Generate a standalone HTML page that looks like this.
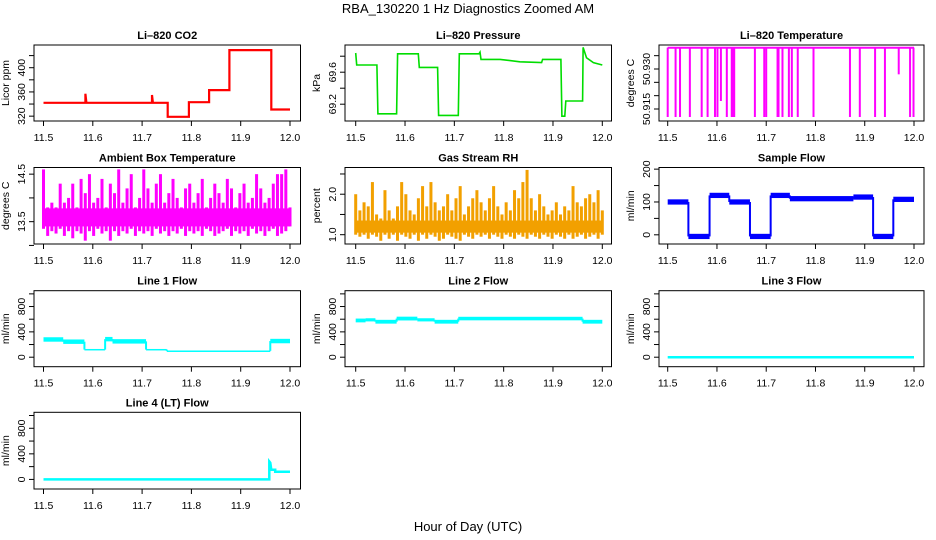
<!DOCTYPE html>
<html><head><meta charset="utf-8"><style>
html,body{margin:0;padding:0;background:#fff}
svg{display:block}
text{font-family:"Liberation Sans",sans-serif;fill:#000}
.t{font-size:11px;font-weight:bold}
.tk{font-size:10.5px}
</style></head><body>
<svg id="c" width="936" height="540" viewBox="0 0 936 540">
<text x="468" y="13" font-size="13" text-anchor="middle">RBA_130220  1 Hz Diagnostics Zoomed AM</text>
<text x="468" y="531" font-size="13" text-anchor="middle">Hour of Day (UTC)</text>
</svg>
<script>
const xTicks=[11.5,11.6,11.7,11.8,11.9,12.0];
const xTickLabels=["11.5","11.6","11.7","11.8","11.9","12.0"];
// CO2
const co2Hours=[11.5,11.585,11.585,11.587,11.72,11.72,11.722,11.752,11.752,11.795,11.795,11.836,11.836,11.877,11.877,11.96,11.962,11.962,12.0];
const co2Ppm=[342,342,357,342,342,355,342,342,319,319,343,343,363,363,429,429,429,331,331];
// Pressure
const presHours=[11.5,11.502,11.543,11.545,11.583,11.585,11.627,11.629,11.666,11.668,11.708,11.71,11.75,11.752,11.754,11.793,11.833,11.877,11.879,11.916,11.918,11.924,11.926,11.96,11.961,11.968,11.982,12.0];
const presKpa=[69.84,69.69,69.69,69.08,69.08,69.83,69.83,69.66,69.66,69.06,69.06,69.83,69.83,69.85,69.76,69.76,69.73,69.72,69.76,69.76,69.05,69.05,69.24,69.24,69.91,69.78,69.72,69.69];
// Li-820 temperature drops
const tempDropHours=[11.5,11.516,11.525,11.545,11.569,11.581,11.596,11.601,11.608,11.62,11.63,11.633,11.635,11.677,11.696,11.7,11.723,11.725,11.733,11.746,11.752,11.764,11.796,11.87,11.89,11.921,11.941,11.969,11.992,11.999];
const tempDropTo=[50.912,50.912,50.912,50.912,50.912,50.912,50.912,50.912,50.918,50.912,50.912,50.912,50.912,50.912,50.912,50.912,50.912,50.912,50.912,50.912,50.912,50.912,50.912,50.912,50.912,50.912,50.912,50.928,50.912,50.912];
const tempTop=50.938;
// Ambient box temperature
const ambHigh=[14.6,13.8,13.9,13.8,14.3,13.9,14.0,14.3,13.8,14.4,14.1,14.5,13.9,14.0,14.4,13.8,14.3,14.1,14.6,13.9,14.2,14.5,13.8,14.0,14.6,14.2,13.9,14.3,14.5,13.9,14.1,14.4,14.0,13.8,14.2,14.3,13.9,14.1,14.4,13.8,14.0,14.3,14.1,13.9,14.4,14.2,13.8,14.1,14.3,13.9,14.0,14.5,14.2,13.9,14.0,14.3,14.5,14.5,14.6,13.8];
const ambLow=[13.35,13.2,13.3,13.25,13.35,13.2,13.3,13.15,13.3,13.25,13.1,13.3,13.2,13.35,13.25,13.3,13.1,13.3,13.2,13.3,13.25,13.35,13.2,13.3,13.25,13.3,13.2,13.35,13.25,13.3,13.2,13.3,13.25,13.35,13.2,13.3,13.25,13.3,13.2,13.35,13.3,13.2,13.25,13.3,13.35,13.2,13.3,13.25,13.3,13.2,13.35,13.25,13.3,13.2,13.3,13.35,13.2,13.25,13.3,13.4];
const ambBand=[13.4,13.78];
// Gas stream RH
const rhHigh=[2.0,1.6,1.8,1.7,2.3,1.5,1.4,2.1,1.6,1.4,1.7,2.3,2.0,1.6,1.5,1.9,2.2,1.7,2.3,1.8,1.6,1.7,2.0,1.6,1.9,2.2,1.5,1.7,1.9,2.1,1.8,1.6,1.9,2.2,1.7,1.5,1.8,1.6,2.1,1.9,2.3,2.6,1.9,1.6,2.0,1.7,1.5,1.6,1.8,1.5,1.7,1.6,2.2,1.8,1.7,1.9,2.0,1.8,2.1,1.6];
const rhLow=[1.0,0.95,1.0,0.9,1.0,0.95,0.85,1.0,0.9,1.0,0.85,1.0,0.95,0.9,1.0,0.85,1.0,0.9,1.0,0.95,0.85,0.9,1.0,0.95,0.9,0.85,1.0,0.95,0.9,1.0,0.95,1.0,0.9,1.0,0.95,0.9,1.0,0.95,0.9,1.0,0.95,0.9,1.0,0.95,0.9,1.0,0.95,0.9,1.0,0.95,0.9,1.0,0.9,0.95,1.0,0.9,0.95,1.0,0.9,1.0];
const rhBand=[1.05,1.35];
// Sample flow (segments: start hour, value)
const sfStart=[11.5,11.542,11.585,11.625,11.667,11.709,11.748,11.877,11.917,11.958];
const sfVal=[100,-5,120,100,-5,120,110,115,-5,108];
const sfHalf=8;
// Line flows (segments)
const l1Start=[11.5,11.54,11.583,11.625,11.64,11.708,11.75,11.96];
const l1Val=[280,245,120,285,250,120,100,255];
const l1Half=[35,35,10,35,35,10,6,35];
const l2Start=[11.5,11.52,11.54,11.583,11.625,11.66,11.708,11.96];
const l2Val=[580,590,560,610,590,560,610,560];
const l2Half=[30,25,30,30,25,30,28,30];
const l3Hours=[11.5,12.0];
const l3Val=[0,0];
const l4Hours=[11.5,11.958,11.958,11.96,11.962,11.962,11.97,11.97,12.0];
const l4Val=[0,0,280,260,150,150,150,120,120];

const NS='http://www.w3.org/2000/svg';
const svg=document.getElementById('c');
function mk(tag,attrs,parent){const e=document.createElementNS(NS,tag);for(const k in attrs)e.setAttribute(k,attrs[k]);(parent||svg).appendChild(e);return e;}
const cols=[{l:34,r:300.5,x0:43.5,x1:290},{l:345,r:611.5,x0:355.7,x1:602.3},{l:659,r:924,x0:667.7,x1:914}];
const rows=[{t:45,b:121},{t:167.5,b:244},{t:290.7,b:366.7},{t:412.3,b:489}];

function panel(name,ci,ri,title,ylab,ymin,ymax,yTicks,yLabels){
  const c=cols[ci],r=rows[ri];
  const g=mk('g',{});
  
  
  const sx=h=>c.x0+(h-11.5)/(0.5)*(c.x1-c.x0);
  const sy=v=>r.b-(v-ymin)/(ymax-ymin)*(r.b-r.t);
  const t=mk('text',{x:(c.l+c.r)/2,y:r.t-6,'text-anchor':'middle',class:'t'},g);t.textContent=title;
  
  
  const yl=mk('text',{x:0,y:0,'text-anchor':'middle',class:'tk',transform:`translate(${c.l-25},${(r.t+r.b)/2}) rotate(-90)`},g);yl.textContent=ylab;
  
  
  const marks=mk('g',{},g);
  const box=mk('rect',{x:c.l,y:r.t,width:c.r-c.l,height:r.b-r.t,fill:'none',stroke:'#000','stroke-width':1},g);
  
  
  const xa=mk('g',{},g);
  
  
  xTicks.forEach((h,i)=>{mk('line',{x1:sx(h),x2:sx(h),y1:r.b,y2:r.b+5,stroke:'#000'},xa);
    const tx=mk('text',{x:sx(h),y:r.b+20,'text-anchor':'middle',class:'tk'},xa);tx.textContent=xTickLabels[i];});
  const ya=mk('g',{},g);
  
  
  yTicks.forEach((v,i)=>{mk('line',{x1:c.l-5,x2:c.l,y1:sy(v),y2:sy(v),stroke:'#000'},ya);
    if(yLabels[i]){const tx=mk('text',{x:0,y:0,'text-anchor':'middle',class:'tk',transform:`translate(${c.l-9},${sy(v)}) rotate(-90)`},ya);tx.textContent=yLabels[i];}});
  return {sx,sy,marks};
}
function poly(p,xs,ys,color,w,name){
  const pts=xs.map((h,i)=>p.sx(h).toFixed(1)+','+p.sy(ys[i]).toFixed(1)).join(' ');
  const e=mk('polyline',{points:pts,fill:'none',stroke:color,'stroke-width':w},p.marks);
  
  
}
function bands(p,starts,vals,halves,color,name){
  starts.forEach((s,i)=>{const e2=i<starts.length-1?starts[i+1]:12.0;const hw=Array.isArray(halves)?halves[i]:halves;
    const e=mk('rect',{x:p.sx(s),y:p.sy(vals[i]+hw),width:Math.max(1,p.sx(e2)-p.sx(s)),height:Math.max(1.5,p.sy(vals[i]-hw)-p.sy(vals[i]+hw)),fill:color},p.marks);
    
    
    if(i>0){const a=vals[i-1],b=vals[i];const top=Math.max(a,b),bot=Math.min(a,b);
      const v=mk('rect',{x:p.sx(s)-1,y:p.sy(top),width:2,height:Math.max(1,p.sy(bot)-p.sy(top)),fill:color},p.marks);
      
      }});
}
function noise(p,hi,lo,band,fill,name){
  const b=mk('rect',{x:p.sx(11.5),y:p.sy(band[1]),width:p.sx(12)-p.sx(11.5),height:p.sy(band[0])-p.sy(band[1]),fill:fill},p.marks);
  
  
  const n=hi.length;
  hi.forEach((v,i)=>{const h=11.5+i*0.5/(n-1);const x=p.sx(h);
    const e=mk('rect',{x:x-1.5,y:p.sy(v),width:3,height:p.sy(lo[i])-p.sy(v),fill:fill},p.marks);
    
    });
}

let p=panel('co2',0,0,'Li\u2013820 CO2','Licor ppm',312,437.5,[320,340,360,380,400,420],['320','','360','','400','']);
poly(p,co2Hours,co2Ppm,'#ff0000',2.2,'co2-line');
p=panel('pressure',1,0,'Li\u2013820 Pressure','kPa',68.99,69.94,[69.2,69.4,69.6,69.8],['69.2','','69.6','']);
poly(p,presHours,presKpa,'#00dd00',1.6,'pressure-line');
p=panel('li820-temp',2,0,'Li\u2013820 Temperature','degrees C',50.9105,50.939,[50.915,50.92,50.925,50.93,50.935],['50.915','','','50.930','']);
tempDropHours.forEach((h,i)=>{const e=mk('line',{x1:p.sx(h),x2:p.sx(h),y1:p.sy(tempTop),y2:p.sy(tempDropTo[i]),stroke:'#ff00ff','stroke-width':2},p.marks);
  
  });
poly(p,[11.5,12.0],[tempTop,tempTop],'#ff00ff',2,'temp-line');
p=panel('ambient-temp',0,1,'Ambient Box Temperature','degrees C',13.03,14.64,[13.0,13.5,14.0,14.5],['','13.5','','14.5']);
noise(p,ambHigh,ambLow,ambBand,'#ff00ff','ambient');
p=panel('rh',1,1,'Gas Stream RH','percent',0.77,2.66,[1.0,1.5,2.0,2.5],['1.0','','2.0','']);
noise(p,rhHigh,rhLow,rhBand,'#f2a000','rh');
p=panel('sample-flow',2,1,'Sample Flow','ml/min',-28,205,[0,50,100,150,200],['0','','100','','200']);
bands(p,sfStart,sfVal,sfHalf,'#0000ff','sample-flow');
const fT=[0,200,400,600,800,1000],fL=['0','','400','','800',''];
p=panel('line1-flow',0,2,'Line 1 Flow','ml/min',-150,1050,fT,fL);
bands(p,l1Start,l1Val,l1Half,'#00ffff','line1-flow');
p=panel('line2-flow',1,2,'Line 2 Flow','ml/min',-150,1050,fT,fL);
bands(p,l2Start,l2Val,l2Half,'#00ffff','line2-flow');
p=panel('line3-flow',2,2,'Line 3 Flow','ml/min',-150,1050,fT,fL);
poly(p,l3Hours,l3Val,'#00ffff',2.5,'line3-flow-line');
p=panel('line4-flow',0,3,'Line 4 (LT) Flow','ml/min',-150,1050,fT,fL);
poly(p,l4Hours,l4Val,'#00ffff',2.5,'line4-flow-line');
</script>
</body></html>
